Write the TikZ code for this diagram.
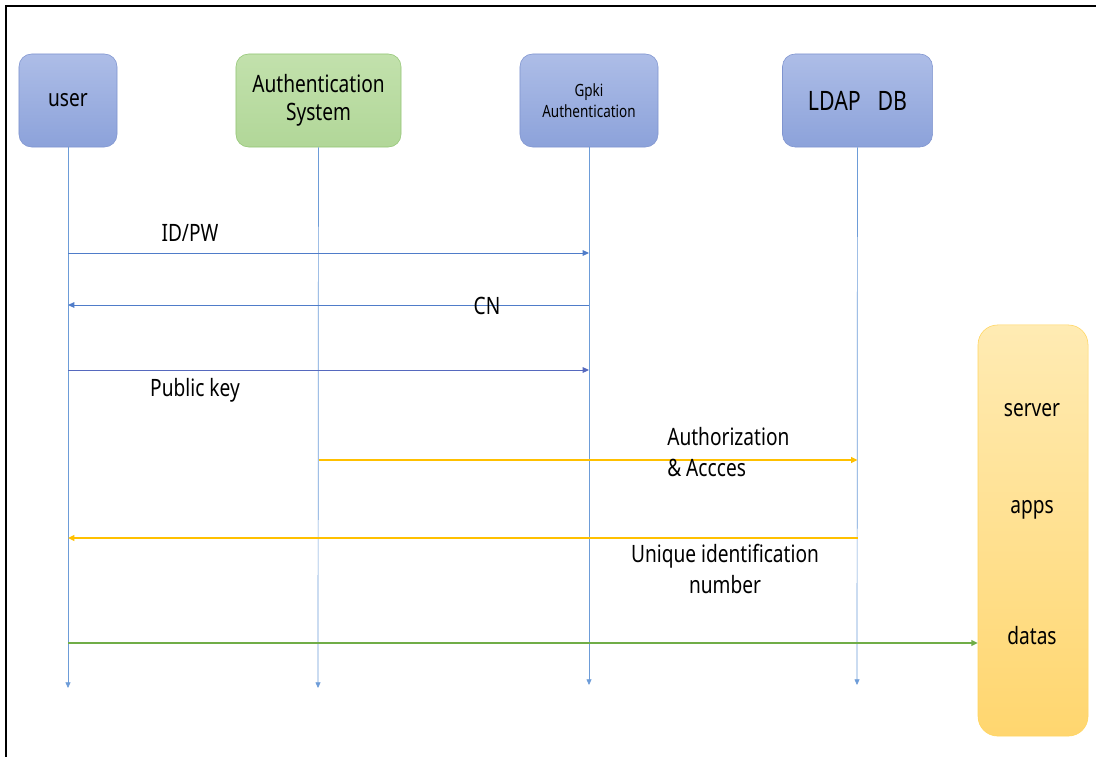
\documentclass[tikz,border=0pt]{standalone}
\usepackage{fontspec}
\setmainfont{Noto Sans}[FakeStretch=0.8]
\usepackage{xcolor}
\usetikzlibrary{arrows.meta, positioning}

\definecolor{boxtop}{HTML}{ADBDE7}
\definecolor{boxbot}{HTML}{8CA2DA}
\definecolor{boxline}{HTML}{7F94CF}
\definecolor{grntop}{HTML}{C2E1AC}
\definecolor{grnbot}{HTML}{A6D08B}
\definecolor{grnline}{HTML}{93C575}
\definecolor{srvtop}{HTML}{FFEBB3}
\definecolor{srvbot}{HTML}{FFD66F}
\definecolor{srvline}{HTML}{FFD55E}
\definecolor{life}{HTML}{6D9CD8}
\definecolor{msgblue}{HTML}{4F7CC9}
\definecolor{msgyel}{HTML}{FFC000}
\definecolor{msggrn}{HTML}{70AD47}

\begin{document}
\begin{tikzpicture}[x=0.025cm, y=-0.025cm,
    actor/.style={draw=boxline, rounded corners=9pt, top color=boxtop, bottom color=boxbot,
      minimum height=2.325cm, align=center, font=\fontsize{17}{20}\selectfont},
    lifeline/.style={life, line width=0.5pt, -{Triangle[length=4pt, width=3.5pt]}},
    msg/.style={line width=0.7pt, -{Triangle[length=4.5pt, width=4pt]}},
    lbl/.style={font=\fontsize{17}{22}\selectfont, align=center, inner sep=0pt}]
  \useasboundingbox (0,0) rectangle (1096,756);

  % Frame (left and top edge only)
  \draw[line width=2pt] (6,760) -- (6,6) -- (1100,6);

  % Actors
  \node[actor, minimum width=2.45cm] (user) at (68,100.5) {user};
  \node[actor, minimum width=4.125cm, draw=grnline, top color=grntop, bottom color=grntop!40!grnbot] (auth) at (318.5,100.5) {Authentication\\System};
  \node[actor, minimum width=3.45cm, font=\fontsize{12}{15}\selectfont] (gpki) at (589,100.5) {Gpki\\Authentication};
  \node[actor, minimum width=3.75cm, font=\fontsize{19}{22}\selectfont] (ldap) at (857.5,100.5) {LDAP\ \ \ DB};
  \node[draw=srvline, rounded corners=14pt, top color=srvtop, bottom color=srvbot,
    minimum width=2.75cm, minimum height=10.275cm] (srv) at (1033,530.5) {};
  \node[lbl] (server) at (1032,410) {server};
  \node[lbl] (apps) at (1032,510) {apps};
  \node[lbl] (datas) at (1032,636) {datas};

  % Lifelines
  \coordinate (userend) at (68,688);
  \coordinate (authend) at (318,688);
  \coordinate (gpkiend) at (589,685);
  \coordinate (ldapend) at (857,685);
  \draw[lifeline] (user) -- (userend);
  \draw[lifeline] (auth) -- (authend);
  \draw[lifeline] (gpki) -- (gpkiend);
  \draw[lifeline] (ldap) -- (ldapend);

  % Messages
  \coordinate (idpw) at (0,253);
  \coordinate (cn) at (0,305);
  \coordinate (pubkey) at (0,370);
  \coordinate (access) at (0,460);
  \coordinate (uin) at (0,538);
  \coordinate (data) at (0,643);
  \draw[msg, msgblue] (user |- idpw) -- (gpki |- idpw);
  \draw[msg, msgblue] (gpki |- cn) -- (user |- cn);
  \draw[msg, msgblue!85!violet] (user |- pubkey) -- (gpki |- pubkey);
  \draw[msg, msgyel, line width=1.2pt] (auth |- access) -- (ldap |- access);
  \draw[msg, msgyel, line width=1.2pt] (ldap |- uin) -- (user |- uin);
  \draw[msg, msggrn, line width=1.2pt] (user |- data) -- (srv.west |- data);

  % Message labels
  \node[lbl] (idpwlbl) at (190,233) {ID/PW};
  \node[lbl] (cnlbl) at (487,306) {CN};
  \node[lbl] (pubkeylbl) at (195,390) {Public key};
  \node[lbl, align=left, anchor=west] (accesslbl) at (667,452) {Authorization\\\& Accces};
  \node[lbl] (uinlbl) at (725,569) {Unique identification\\number};
\end{tikzpicture}
\end{document}
